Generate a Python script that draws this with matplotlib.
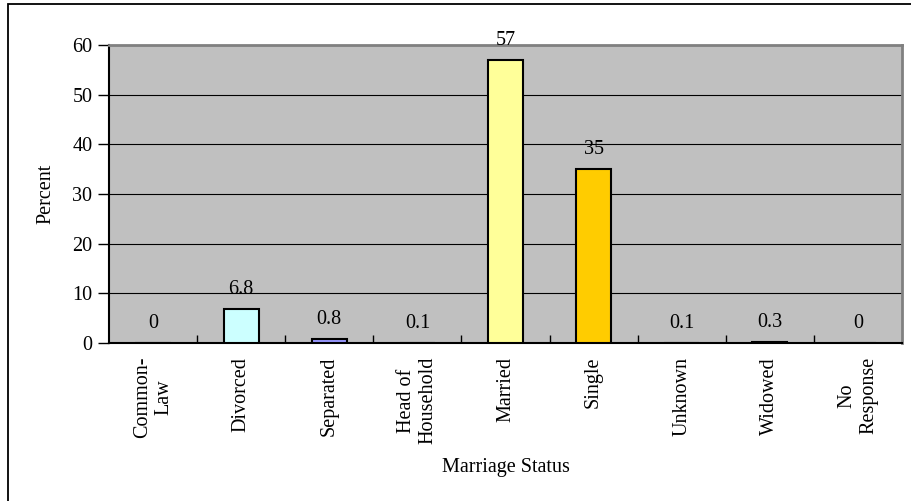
import matplotlib.pyplot as plt
from matplotlib.patches import Rectangle

# datos del grafico
categorias = ["Common-\nLaw", "Divorced", "Separated", "Head of\nHousehold",
              "Married", "Single", "Unknown", "Widowed", "No\nResponse"]
porcentajes = [0, 6.8, 0.8, 0.1, 57, 35, 0.1, 0.3, 0]
etiquetas = ["0", "6.8", "0.8", "0.1", "57", "35", "0.1", "0.3", "0"]
colores = ["#FFFFFF", "#CCFFFF", "#9999FF", "#000000", "#FFFF99",
           "#FFCC00", "#000000", "#000000", "#FFFFFF"]

plt.rcParams['font.family'] = ['Liberation Serif', 'DejaVu Serif']
plt.rcParams['font.size'] = 14

fig = plt.figure(figsize=(9.11, 5.01), dpi=100)
ax = fig.add_axes([109/911, 1 - 343/501, (902-109)/911, (343-45)/501])

# marco exterior
fig.patches.append(Rectangle((8/911, -0.05), 1.2, 1 - 4/501 + 0.05,
                             transform=fig.transFigure, fill=False,
                             edgecolor='black', linewidth=1.3))

ax.set_facecolor('#C0C0C0')
x = list(range(len(categorias)))
ax.bar(x, porcentajes, width=0.4, color=colores, edgecolor='black',
       linewidth=1.5, zorder=3)

for xi, v, t in zip(x, porcentajes, etiquetas):
    ax.text(xi, v + 2.0, t, ha='center', va='bottom', fontsize=14.5, zorder=4)

ax.set_xlim(-0.5, len(categorias) - 0.5)
ax.set_ylim(0, 60)
ax.set_yticks(range(0, 61, 10))
ax.yaxis.grid(True, color='black', linewidth=0.8, zorder=1)
ax.set_axisbelow(True)

ax.set_xticks([i + 0.5 for i in range(len(categorias) - 1)], minor=False)
ax.set_xticklabels([])
ax.set_xticks(x, minor=True)
ax.set_xticklabels(categorias, minor=True, rotation=90, ha='center',
                   va='top', multialignment='center', fontsize=14.5)
ax.tick_params(axis='x', which='major', direction='in', length=6, width=1)
ax.tick_params(axis='x', which='minor', length=0, pad=10)
ax.tick_params(axis='y', direction='out', length=8, width=1, labelsize=14.5, pad=4)

for s in ['top', 'right']:
    ax.spines[s].set_color('#808080')
    ax.spines[s].set_linewidth(2)
for s in ['left', 'bottom']:
    ax.spines[s].set_color('black')
    ax.spines[s].set_linewidth(1.5)

ax.set_ylabel('Percent', fontsize=14.5, labelpad=12)
ax.set_xlabel('Marriage Status', fontsize=14.5, labelpad=10)

fig.savefig('out.png', dpi=100)
